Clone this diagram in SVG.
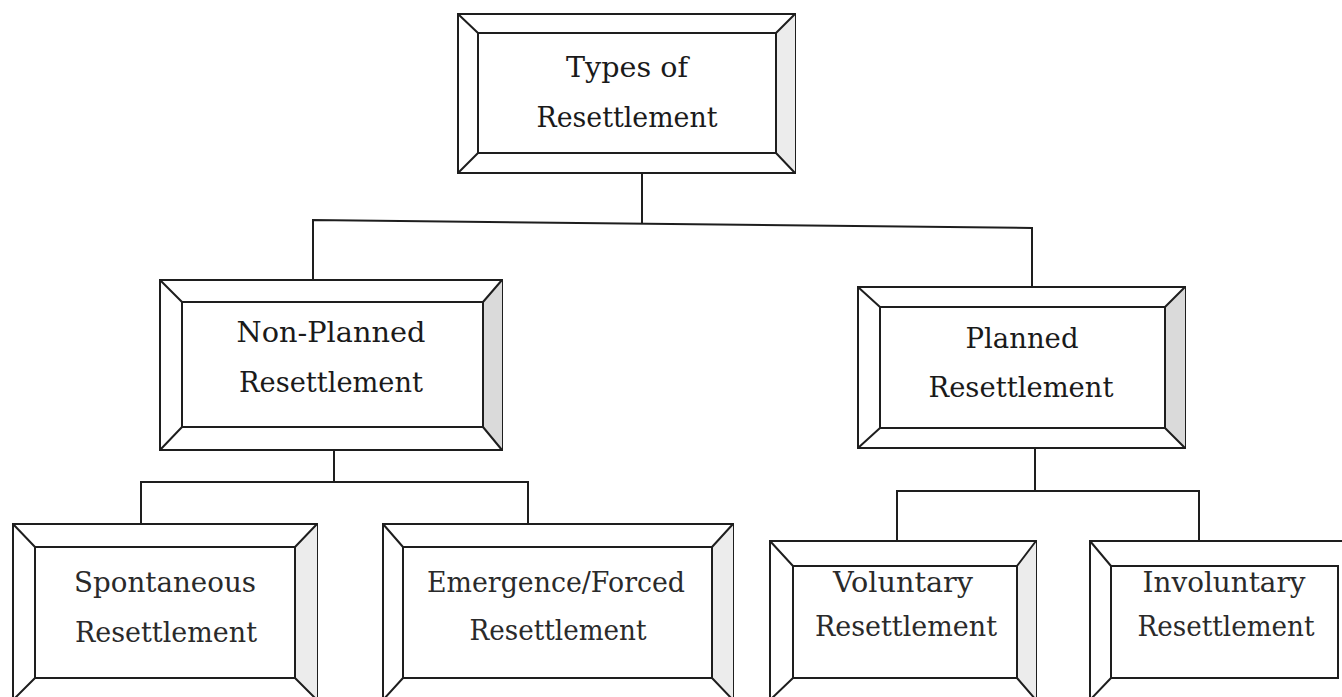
<svg xmlns="http://www.w3.org/2000/svg" width="1342" height="697" viewBox="0 0 1342 697">
<style>
.ln{fill:none;stroke:#1e1e1e;stroke-width:2;stroke-linejoin:miter}
.bx{fill:#ffffff;stroke:#1e1e1e;stroke-width:2}
.sh{fill:#dadada;stroke:none}
.shl{fill:#ececec;stroke:none}
.t{font-family:"DejaVu Serif","Liberation Serif",serif;font-size:27px;fill:#1a1a1a;text-anchor:middle}
.tb{font-family:"DejaVu Serif","Liberation Serif",serif;font-size:27px;fill:#2a2a2a;text-anchor:middle}
</style>
<rect width="1342" height="697" fill="#ffffff"/>
<g id="connectors">
<path class="ln" d="M642,173 V223"/>
<path class="ln" d="M313,280 V220 L1032,228 V287"/>
<path class="ln" d="M334,450 V482"/>
<path class="ln" d="M141,524 V482 H528 V524"/>
<path class="ln" d="M1035,448 V491"/>
<path class="ln" d="M897,541 V491 H1199 V541"/>
</g>
<g id="node-types">
<rect class="bx" x="458" y="14" width="337" height="159"/>
<polygon class="shl" points="776,33 795,14 795,173 776,153"/>
<rect class="bx" x="478" y="33" width="298" height="120"/>
<path class="ln" d="M458,14 L478,33 M795,14 L776,33 M458,173 L478,153 M795,173 L776,153"/>
<text class="t" x="627" y="77" textLength="122" lengthAdjust="spacingAndGlyphs">Types of</text>
<text class="t" x="627" y="127" textLength="181" lengthAdjust="spacingAndGlyphs">Resettlement</text>
</g>
<g id="node-nonplanned">
<rect class="bx" x="160" y="280" width="342" height="170"/>
<polygon class="sh" points="483,302 502,280 502,450 483,427"/>
<rect class="bx" x="182" y="302" width="301" height="125"/>
<path class="ln" d="M160,280 L182,302 M502,280 L483,302 M160,450 L182,427 M502,450 L483,427"/>
<text class="t" x="331" y="342" textLength="189" lengthAdjust="spacingAndGlyphs">Non-Planned</text>
<text class="t" x="331" y="392" textLength="184" lengthAdjust="spacingAndGlyphs">Resettlement</text>
</g>
<g id="node-planned">
<rect class="bx" x="858" y="287" width="327" height="161"/>
<polygon class="sh" points="1165,307 1185,287 1185,448 1165,428"/>
<rect class="bx" x="880" y="307" width="285" height="121"/>
<path class="ln" d="M858,287 L880,307 M1185,287 L1165,307 M858,448 L880,428 M1185,448 L1165,428"/>
<text class="t" x="1022" y="348" textLength="113" lengthAdjust="spacingAndGlyphs">Planned</text>
<text class="t" x="1021" y="397" textLength="185" lengthAdjust="spacingAndGlyphs">Resettlement</text>
</g>
<g id="node-spontaneous">
<rect class="bx" x="13" y="524" width="304" height="176"/>
<polygon class="shl" points="295,547 317,524 317,700 295,678"/>
<rect class="bx" x="35" y="547" width="260" height="131"/>
<path class="ln" d="M13,524 L35,547 M317,524 L295,547 M13,700 L35,678 M317,700 L295,678"/>
<text class="tb" x="165" y="592" textLength="182" lengthAdjust="spacingAndGlyphs">Spontaneous</text>
<text class="tb" x="166" y="642" textLength="182" lengthAdjust="spacingAndGlyphs">Resettlement</text>
</g>
<g id="node-emergence">
<rect class="bx" x="383" y="524" width="350" height="176"/>
<polygon class="shl" points="712,547 733,524 733,700 712,678"/>
<rect class="bx" x="403" y="547" width="309" height="131"/>
<path class="ln" d="M383,524 L403,547 M733,524 L712,547 M383,700 L403,678 M733,700 L712,678"/>
<text class="tb" x="556" y="592" textLength="258" lengthAdjust="spacingAndGlyphs">Emergence/Forced</text>
<text class="tb" x="558" y="640" textLength="177" lengthAdjust="spacingAndGlyphs">Resettlement</text>
</g>
<g id="node-voluntary">
<rect class="bx" x="770" y="541" width="266" height="159"/>
<polygon class="shl" points="1017,566 1036,541 1036,700 1017,678"/>
<rect class="bx" x="793" y="566" width="224" height="112"/>
<path class="ln" d="M770,541 L793,566 M1036,541 L1017,566 M770,700 L793,678 M1036,700 L1017,678"/>
<text class="tb" x="903" y="592" textLength="140" lengthAdjust="spacingAndGlyphs">Voluntary</text>
<text class="tb" x="906" y="636" textLength="182" lengthAdjust="spacingAndGlyphs">Resettlement</text>
</g>
<g id="node-involuntary">
<rect class="bx" x="1090" y="541" width="270" height="159"/>
<rect class="bx" x="1111" y="566" width="227" height="112"/>
<path class="ln" d="M1090,541 L1111,566 M1090,700 L1111,678"/>
<text class="tb" x="1224" y="592" textLength="163" lengthAdjust="spacingAndGlyphs">Involuntary</text>
<text class="tb" x="1226" y="636" textLength="177" lengthAdjust="spacingAndGlyphs">Resettlement</text>
</g>
</svg>
